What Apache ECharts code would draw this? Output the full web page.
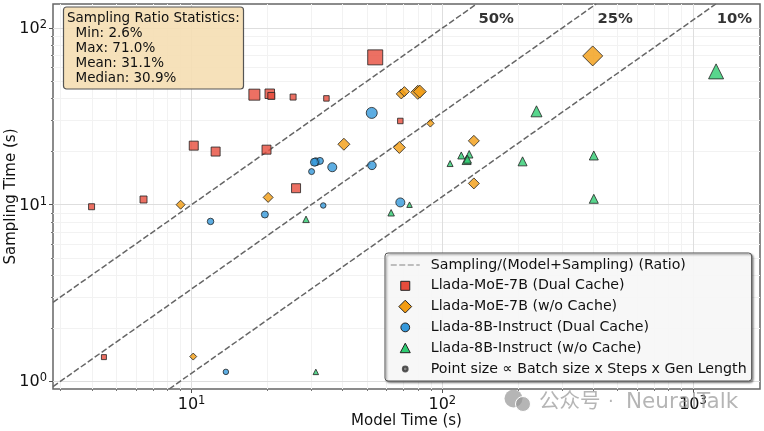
<!DOCTYPE html>
<html lang="en">
  <head>
    <meta charset="UTF-8" />
    <title>Model vs sampling time</title>
    <script src="https://cdn.jsdelivr.net/npm/echarts@6/dist/echarts.min.js"></script>
    <style>
      html, body { margin: 0; padding: 0; background: #fff; }
    </style>
  </head>
  <body>
    <div id="main" style="width: 764px; height: 431px"></div>
    <script type="text/javascript">
      // Values: model time, sampling time, point size
      const moeDualModel = [3.99, 6.43, 10.2, 12.47, 19.9, 26.1, 17.8, 20.5, 20.8, 25.4, 34.5, 54, 68, 4.47];
      const moeDualSampling = [9.74, 10.7, 21.6, 20, 20.5, 12.4, 42, 42.5, 41.3, 40.7, 40, 68.3, 29.8, 1.37];
      const moeDualSize = [6, 7, 9, 9, 9, 9, 11, 9.5, 7, 6, 5.5, 15, 5.5, 5];

      const moeNoCacheModel = [9.04, 20.2, 40.5, 67.4, 89.6, 133.6, 133.6, 398, 68.6, 70.6, 79.8, 81.3, 10.15];
      const moeNoCacheSampling = [10, 11, 22, 21.1, 28.9, 23, 13.2, 69.6, 42.4, 43.7, 43.3, 43.7, 1.38];
      const moeNoCacheSize = [9, 10, 12, 12, 7.5, 11, 11, 20, 10, 10, 14, 13, 7];

      const instructDualModel = [52.3, 52.4, 31.3, 32.5, 30.9, 36.4, 30.1, 33.5, 68, 19.6, 11.9, 13.7];
      const instructDualSampling = [33.1, 16.7, 17.5, 17.7, 17.4, 16.3, 15.4, 9.9, 10.3, 8.8, 8.04, 1.13];
      const instructDualSize = [11, 8.5, 8, 7, 8, 9, 6, 5.5, 9, 7, 6.5, 5.5];

      const instructNoCacheModel = [1236, 237.5, 209, 402, 402, 107.4, 119, 128, 125, 126, 74, 62.5, 28.6, 31.3];
      const instructNoCacheSampling = [56.9, 33.8, 17.6, 19, 10.8, 17.1, 19, 19.3, 17.9, 18.1, 10, 9, 8.26, 1.13];
      const instructNoCacheSize = [15, 11, 9, 9, 9, 6, 7, 7.5, 9, 8, 5.5, 6.5, 6.5, 5.5];

      // Ends of the constant-ratio guide lines
      const ratio50Model = [2.8, 137];
      const ratio50Sampling = [2.8, 137];
      const ratio25Model = [2.8, 411];
      const ratio25Sampling = [0.933, 137];
      const ratio10Model = [8.14, 1233];
      const ratio10Sampling = [0.904, 137];

      const ratioLabels = ["50%", "25%", "10%"];
      const ratioLabelModel = [164, 489, 1462];
      const ratioLabelSampling = [112, 112, 112];

      const xTicks = [10, 100, 1000];
      const yTicks = [1, 10, 100];
      const xMinorTicks = [3, 4, 5, 6, 7, 8, 9, 20, 30, 40, 50, 60, 70, 80, 90, 200, 300, 400, 500, 600, 700, 800, 900];
      const yMinorTicks = [2, 3, 4, 5, 6, 7, 8, 9, 20, 30, 40, 50, 60, 70, 80, 90];

      const statsLines = ["Sampling Ratio Statistics:", "  Min: 2.6%", "  Max: 71.0%", "  Mean: 31.1%", "  Median: 30.9%"];

      const FONT = "DejaVu Sans";
      const ratioName = "Sampling/(Model+Sampling) (Ratio)";
      const sizeName = "Point size \u221D Batch size x Steps x Gen Length";

      // Legend icons on a 14 unit box, the corner points pad the path so each keeps its own size
      const iconPad = "M0 0L0 0M14 14L14 14";
      const squareIcon = "path://" + iconPad + "M2.5 2.5L11.5 2.5L11.5 11.5L2.5 11.5Z";
      const diamondIcon = "path://" + iconPad + "M7 0.6L13.4 7L7 13.4L0.6 7Z";
      const circleIcon = "path://" + iconPad + "M2.6 7A4.4 4.4 0 1 1 11.4 7A4.4 4.4 0 1 1 2.6 7Z";
      const triangleIcon = "path://" + iconPad + "M7 2L12 11.5L2 11.5Z";
      const dotIcon = "path://" + iconPad + "M4.6 7A2.4 2.4 0 1 1 9.4 7A2.4 2.4 0 1 1 4.6 7Z";
      const legendMarkStyle = { opacity: 1, borderColor: "#222", borderWidth: 1 };

      function zipPoints(xs, ys, sizes) {
        return xs.map((x, i) => (sizes ? [x, ys[i], sizes[i]] : [x, ys[i]]));
      }

      function powerLabel(value) {
        return "{b|10}{s|" + Math.round(Math.log10(value)) + "}";
      }

      const tickRich = {
        b: { fontFamily: FONT, fontSize: 16, color: "#111", verticalAlign: "bottom", lineHeight: 18 },
        s: { fontFamily: FONT, fontSize: 11.5, color: "#111", verticalAlign: "top", lineHeight: 18, padding: [0, 0, 3, 0] },
      };

      function scatterSeries(name, symbol, color, xs, ys, sizes) {
        return {
          name: name,
          type: "scatter",
          symbol: symbol,
          symbolSize: (val) => val[2],
          data: zipPoints(xs, ys, sizes),
          itemStyle: { color: color, opacity: 0.8, borderColor: "#222", borderWidth: 1 },
          z: 4,
        };
      }

      function ratioSeries(xs, ys) {
        return {
          name: ratioName,
          type: "line",
          symbol: "none",
          data: zipPoints(xs, ys),
          silent: true,
          lineStyle: { color: "#666", width: 1.5, type: [6, 2.5] },
          itemStyle: { color: "#666" },
          z: 3,
        };
      }

      function axisLines(axisKey, values, color) {
        return values.map((v) => ({
          [axisKey]: v,
          lineStyle: { color: color, width: 1, type: "solid" },
        }));
      }

      // Log axes have no minor grid of their own, so the grid goes in as mark lines
      const gridSeries = {
        name: "grid",
        type: "line",
        data: [],
        silent: true,
        z: 1,
        markLine: {
          silent: true,
          symbol: "none",
          animation: false,
          z: 1,
          label: { show: false },
          data: [
            ...axisLines("xAxis", xMinorTicks, "#f2f2f2"),
            ...axisLines("yAxis", yMinorTicks, "#f2f2f2"),
            ...axisLines("xAxis", xTicks, "#dedede"),
            ...axisLines("yAxis", yTicks, "#dedede"),
          ],
        },
      };

      const myChart = echarts.init(document.getElementById("main"), null, { renderer: "canvas" });

      const options = {
        animation: false,
        textStyle: { fontFamily: FONT },
        grid: {
          left: 53,
          right: 4,
          top: 4,
          bottom: 42,
          outerBoundsMode: "none",
          show: true,
          borderColor: "#666",
          borderWidth: 1.5,
          backgroundColor: "#fff",
        },
        title: {
          text: statsLines.join("\n"),
          left: 63,
          top: 7,
          padding: [3.5, 4, 3.5, 4],
          backgroundColor: "rgba(245,222,179,0.9)",
          borderColor: "#555",
          borderWidth: 1.2,
          borderRadius: 3,
          textStyle: { fontFamily: FONT, fontSize: 13.5, fontWeight: "normal", color: "#111", lineHeight: 15 },
        },
        legend: {
          orient: "vertical",
          left: 385,
          top: 253,
          padding: [4, 5, 4, 5],
          itemWidth: 29,
          itemHeight: 14,
          itemGap: 4.8,
          backgroundColor: "rgba(255,255,255,0.92)",
          borderColor: "#555",
          borderWidth: 1,
          borderRadius: 3,
          shadowColor: "rgba(0,0,0,0.45)",
          shadowBlur: 2,
          shadowOffsetX: 1.5,
          shadowOffsetY: 1.5,
          textStyle: { fontFamily: FONT, fontSize: 14.2, color: "#111", lineHeight: 16, padding: [0, 0, 0, 6] },
          selectedMode: false,
          data: [
            // the line series icon always carries a symbol, so that symbol is made invisible
            {
              name: ratioName,
              itemStyle: { opacity: 0 },
              lineStyle: { color: "#aaa", width: 1.5, type: [6, 2.5], opacity: 1 },
            },
            { name: "Llada-MoE-7B (Dual Cache)", icon: squareIcon, itemStyle: legendMarkStyle },
            { name: "Llada-MoE-7B (w/o Cache)", icon: diamondIcon, itemStyle: legendMarkStyle },
            { name: "Llada-8B-Instruct (Dual Cache)", icon: circleIcon, itemStyle: legendMarkStyle },
            { name: "Llada-8B-Instruct (w/o Cache)", icon: triangleIcon, itemStyle: legendMarkStyle },
            { name: sizeName, icon: dotIcon },
          ],
        },
        xAxis: [
          {
            type: "log",
            min: 2.8,
            max: 1850,
            name: "Model Time (s)",
            nameLocation: "middle",
            nameGap: 25,
            nameMoveOverlap: false,
            nameTextStyle: { fontFamily: FONT, fontSize: 15, color: "#111" },
            axisLine: { show: false },
            splitLine: { show: false },
            axisTick: { show: true, length: 4, customValues: xTicks, lineStyle: { color: "#555" } },
            axisLabel: { customValues: xTicks, formatter: powerLabel, rich: tickRich, margin: 6 },
          },
          {
            type: "log",
            min: 2.8,
            max: 1850,
            position: "bottom",
            axisLine: { show: false },
            splitLine: { show: false },
            axisLabel: { show: false },
            axisTick: { show: true, length: 2, customValues: xMinorTicks, lineStyle: { color: "#777" } },
          },
        ],
        yAxis: [
          {
            type: "log",
            min: 0.904,
            max: 137,
            name: "Sampling Time (s)",
            nameLocation: "middle",
            nameGap: 34,
            nameMoveOverlap: false,
            nameTextStyle: { fontFamily: FONT, fontSize: 15, color: "#111" },
            axisLine: { show: false },
            splitLine: { show: false },
            axisTick: { show: true, length: 4, customValues: yTicks, lineStyle: { color: "#555" } },
            axisLabel: { customValues: yTicks, formatter: powerLabel, rich: tickRich, margin: 6 },
          },
          {
            type: "log",
            min: 0.904,
            max: 137,
            position: "left",
            axisLine: { show: false },
            splitLine: { show: false },
            axisLabel: { show: false },
            axisTick: { show: true, length: 2, customValues: yMinorTicks, lineStyle: { color: "#777" } },
          },
        ],
        series: [
          gridSeries,
          ratioSeries(ratio50Model, ratio50Sampling),
          ratioSeries(ratio25Model, ratio25Sampling),
          ratioSeries(ratio10Model, ratio10Sampling),
          scatterSeries("Llada-MoE-7B (Dual Cache)", "rect", "#e74c3c", moeDualModel, moeDualSampling, moeDualSize),
          scatterSeries("Llada-MoE-7B (w/o Cache)", "diamond", "#f39c12", moeNoCacheModel, moeNoCacheSampling, moeNoCacheSize),
          scatterSeries("Llada-8B-Instruct (Dual Cache)", "circle", "#3498db", instructDualModel, instructDualSampling, instructDualSize),
          scatterSeries("Llada-8B-Instruct (w/o Cache)", "triangle", "#2ecc71", instructNoCacheModel, instructNoCacheSampling, instructNoCacheSize),
          {
            name: sizeName,
            type: "scatter",
            data: [],
            itemStyle: { color: "#666", borderColor: "#333", borderWidth: 1 },
          },
          {
            name: "ratio labels",
            type: "scatter",
            symbolSize: 0,
            silent: true,
            z: 5,
            data: ratioLabels.map((text, i) => ({
              value: [ratioLabelModel[i], ratioLabelSampling[i]],
              label: {
                show: true,
                position: "inside",
                formatter: text,
                fontFamily: FONT,
                fontSize: 14.8,
                fontWeight: "bold",
                color: "#000",
                textBorderWidth: 0,
              },
            })),
          },
        ],
        graphic: [
          {
            type: "text",
            left: 539,
            top: 390,
            z: 100,
            style: { text: "\u516C\u4F17\u53F7", font: '20.5px "Noto Sans CJK SC"', fill: "rgba(150,150,150,0.7)" },
          },
          {
            type: "text",
            left: 608,
            top: 393,
            z: 100,
            style: { text: "\u00B7", font: '18px "DejaVu Sans"', fill: "rgba(150,150,150,0.7)" },
          },
          {
            type: "text",
            left: 626,
            top: 391,
            z: 100,
            style: { text: "NeuralTalk", font: '21.5px "DejaVu Sans"', fill: "rgba(150,150,150,0.7)" },
          },
          { type: "circle", shape: { cx: 513.5, cy: 398.5, r: 9 }, style: { fill: "rgba(150,150,150,0.7)" }, z: 100 },
          { type: "circle", shape: { cx: 523, cy: 404, r: 7.5 }, style: { fill: "rgba(150,150,150,0.7)", stroke: "#fff", lineWidth: 1 }, z: 100 },
        ],
      };

      myChart.setOption(options);
    </script>
  </body>
</html>
